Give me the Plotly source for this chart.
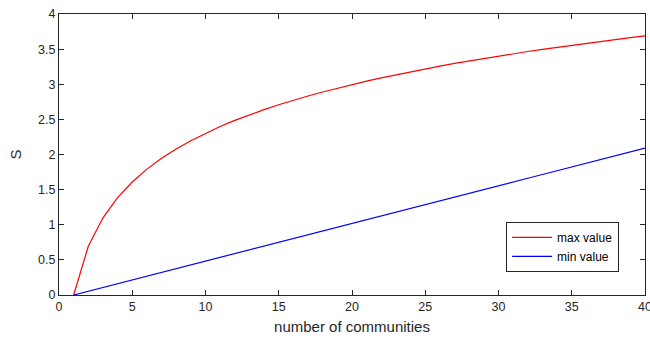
import plotly.graph_objects as go

# number of communities and the corresponding S bounds
n_communities = list(range(1, 41))
max_value = [0.000, 0.693, 1.099, 1.386, 1.609, 1.792, 1.946, 2.079, 2.197, 2.303,
             2.398, 2.485, 2.565, 2.639, 2.708, 2.773, 2.833, 2.890, 2.944, 2.996,
             3.045, 3.091, 3.135, 3.178, 3.219, 3.258, 3.296, 3.332, 3.367, 3.401,
             3.434, 3.466, 3.497, 3.526, 3.555, 3.584, 3.611, 3.638, 3.664, 3.689]
min_value = [0.000, 0.054, 0.107, 0.161, 0.214, 0.268, 0.322, 0.375, 0.429, 0.482,
             0.536, 0.590, 0.643, 0.697, 0.750, 0.804, 0.858, 0.911, 0.965, 1.018,
             1.072, 1.126, 1.179, 1.233, 1.286, 1.340, 1.394, 1.447, 1.501, 1.554,
             1.608, 1.662, 1.715, 1.769, 1.822, 1.876, 1.930, 1.983, 2.037, 2.090]
x_ticks = [0, 5, 10, 15, 20, 25, 30, 35, 40]
y_ticks = [0, 0.5, 1, 1.5, 2, 2.5, 3, 3.5, 4]

FONT = "Liberation Sans, Arial, Helvetica, sans-serif"
AXIS = "#262626"

fig = go.Figure()
fig.add_trace(go.Scatter(x=n_communities, y=max_value, mode="lines",
                         name="max value", line=dict(color="#ff0000", width=1.2)))
fig.add_trace(go.Scatter(x=n_communities, y=min_value, mode="lines",
                         name="min value", line=dict(color="#0000ff", width=1.2)))

axis_common = dict(
    showline=True, linecolor=AXIS, linewidth=1, mirror="allticks",
    ticks="inside", ticklen=5, tickcolor=AXIS, tickwidth=1,
    showgrid=False, zeroline=False, ticklabeloverflow="allow", automargin=False,
    tickfont=dict(family=FONT, size=12.5, color=AXIS),
)

fig.update_layout(
    width=650, height=339,
    margin=dict(l=59, r=5, t=14, b=44),
    paper_bgcolor="white", plot_bgcolor="white",
    font=dict(family=FONT, color=AXIS),
    xaxis=dict(range=[0, 40], tickvals=x_ticks, ticktext=[str(v) for v in x_ticks],
               title=dict(text="number of communities", font=dict(size=15, color=AXIS), standoff=8),
               **axis_common),
    yaxis=dict(range=[0, 4], tickvals=y_ticks, ticktext=[f"{v:g}" for v in y_ticks],
               title=dict(text="S", font=dict(size=15, color=AXIS), standoff=12),
               **axis_common),
    legend=dict(x=0.763, y=0.26, xanchor="left", yanchor="top",
                bgcolor="white", bordercolor=AXIS, borderwidth=1,
                font=dict(family=FONT, size=12, color="#000000"),
                tracegroupgap=0, itemwidth=40),
    showlegend=True,
)

fig.write_html("out.html")
